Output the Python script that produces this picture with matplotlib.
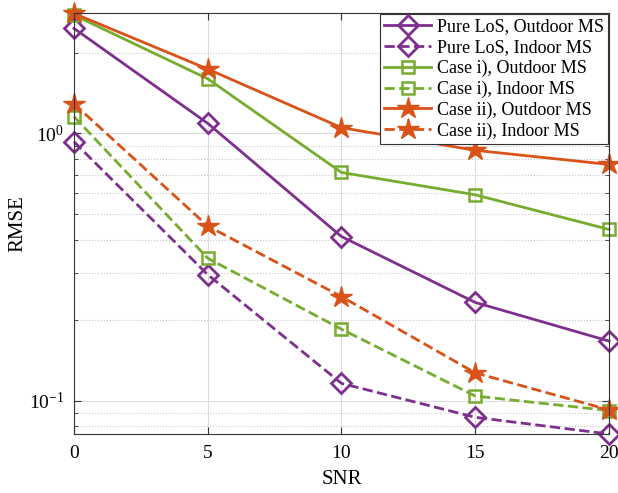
import numpy as np
import matplotlib
matplotlib.use("Agg")
import matplotlib.pyplot as plt
from matplotlib.ticker import LogLocator, NullFormatter

plt.rcParams['font.family'] = ['Liberation Serif', 'DejaVu Serif']
plt.rcParams['mathtext.fontset'] = 'stix'

# SNR values and RMSE curves
snr = [0, 5, 10, 15, 20]
los_out = [2.47, 1.09, 0.411, 0.233, 0.167]
los_in = [0.93, 0.296, 0.116, 0.0866, 0.075]
case1_out = [2.77, 1.60, 0.714, 0.589, 0.437]
case1_in = [1.155, 0.341, 0.185, 0.104, 0.0918]
case2_out = [2.81, 1.74, 1.05, 0.864, 0.765]
case2_in = [1.29, 0.45, 0.245, 0.127, 0.0923]

purple = "#7E2F8E"
green = "#77AC30"
orange = "#D95319"

fig = plt.figure(figsize=(6.18, 4.93), dpi=100)
ax = fig.add_axes([0.1197, 0.1197, 0.8657, 0.8539])

ax.plot(snr, los_out, "-", color=purple, lw=2, marker="D", ms=10, mfc="none", mew=2,
        label="Pure LoS, Outdoor MS", clip_on=False)
ax.plot(snr, los_in, "--", color=purple, lw=2, marker="D", ms=10, mfc="none", mew=2,
        label="Pure LoS, Indoor MS", clip_on=False)
ax.plot(snr, case1_out, "-", color=green, lw=2, marker="s", ms=8, mfc="none", mew=1.8,
        label="Case i), Outdoor MS", clip_on=False)
ax.plot(snr, case1_in, "--", color=green, lw=2, marker="s", ms=8, mfc="none", mew=1.8,
        label="Case i), Indoor MS", clip_on=False)
ax.plot(snr, case2_out, "-", color=orange, lw=2, marker="*", ms=16, mew=1,
        label="Case ii), Outdoor MS", clip_on=False)
ax.plot(snr, case2_in, "--", color=orange, lw=2, marker="*", ms=16, mew=1,
        label="Case ii), Indoor MS", clip_on=False)

ax.set_yscale("log")
ax.set_xlim(0, 20)
ax.set_ylim(0.075, 2.82)
ax.set_xticks([0, 5, 10, 15, 20])
ax.yaxis.set_minor_locator(LogLocator(base=10, subs=np.arange(2, 10)))
ax.yaxis.set_minor_formatter(NullFormatter())

ax.grid(True, which="major", color="#dcdcdc", lw=0.8)
ax.grid(True, which="minor", axis="y", color="#c8c8c8", lw=0.8, ls=":")
ax.set_axisbelow(True)

ax.tick_params(which="both", direction="in", top=True, right=True, labelsize=14,
               color="#333333")
ax.tick_params(which="major", length=5)
ax.tick_params(which="minor", length=3)
ax.tick_params(axis="x", pad=8)
ax.tick_params(axis="y", pad=7)
for s in ax.spines.values():
    s.set_color("#333333")
    s.set_linewidth(0.8)

ax.set_xlabel("SNR", fontsize=15, labelpad=6)
ax.set_ylabel("RMSE", fontsize=15, labelpad=1)

leg = ax.legend(loc="upper right", fontsize=13, handlelength=2.6, borderaxespad=0.05,
                fancybox=False, framealpha=1, edgecolor="#333333",
                borderpad=0.25, labelspacing=0.2, handletextpad=0.3)
leg.set_zorder(5)
leg.get_frame().set_linewidth(0.8)

fig.savefig("out.png", dpi=100)
